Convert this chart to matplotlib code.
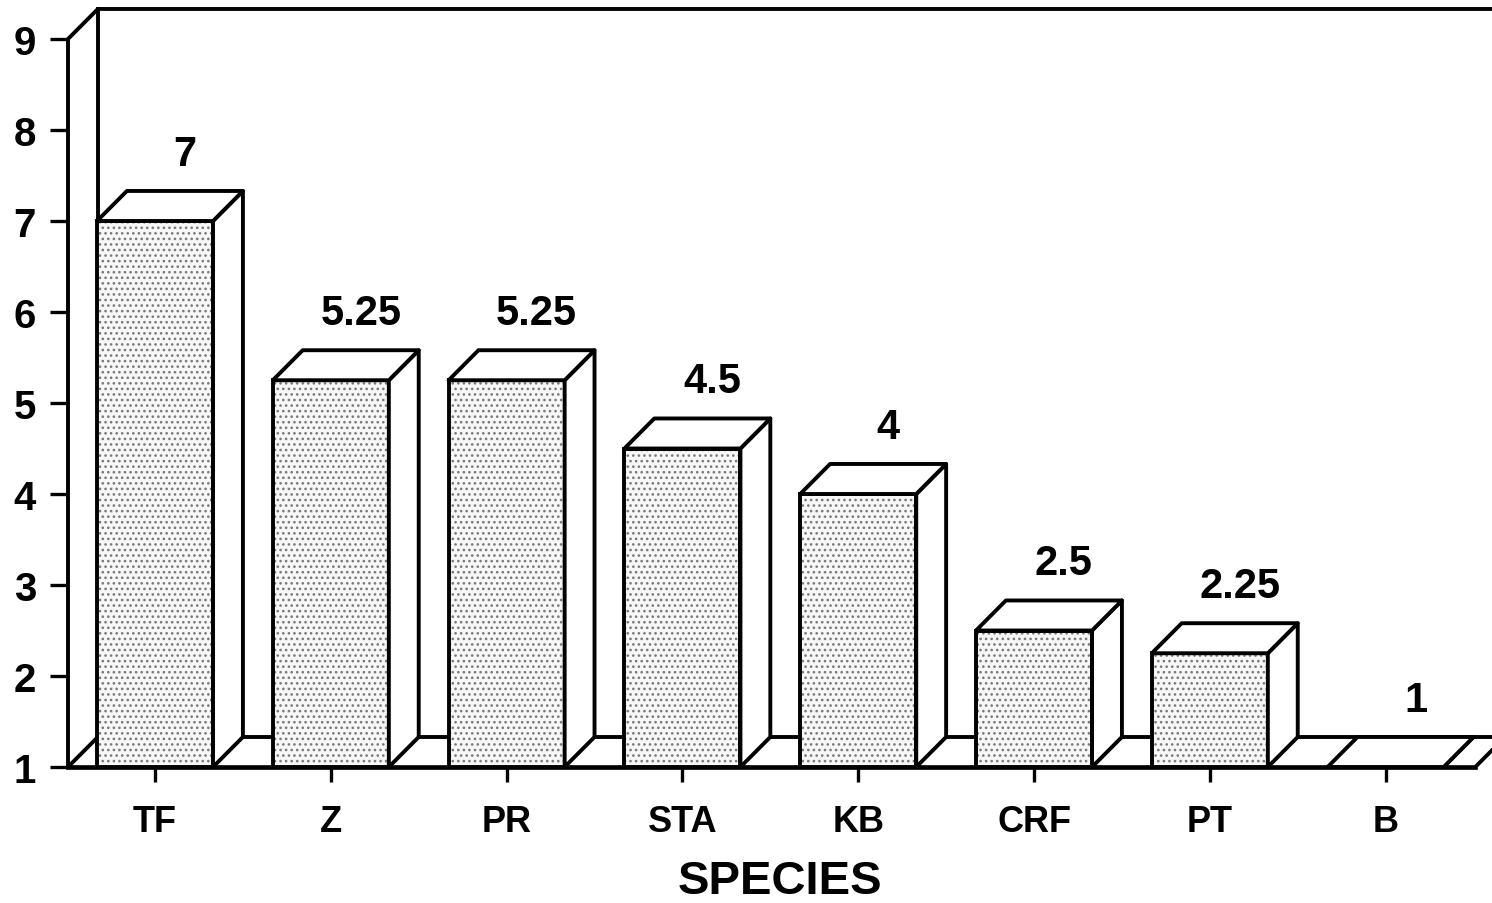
import numpy as np
import matplotlib.pyplot as plt
from matplotlib.patches import Polygon

plt.rcParams['font.family'] = ['Liberation Sans', 'DejaVu Sans']
plt.rcParams['font.weight'] = 'bold'
plt.rcParams['hatch.linewidth'] = 1.1

# -------------------------------
# Data
# -------------------------------
species = ["TF", "Z", "PR", "STA", "KB", "CRF", "PT", "B"]
values = [7, 5.25, 5.25, 4.5, 4, 2.5, 2.25, 1]
value_labels = ["7", "5.25", "5.25", "4.5", "4", "2.5", "2.25", "1"]
y_ticks = [1, 2, 3, 4, 5, 6, 7, 8, 9]

# -------------------------------
# Layout (pseudo 3D)
# -------------------------------
W, H = 1492, 904
y0, y_top = 1, 9
bar_w = 0.66
dx, dy = 0.17, 0.33          # depth offset in data units
x_left, x_right = -0.495, 7.605
floor_end = 7.51
lw = 2.8

fig = plt.figure(figsize=(W / 100, H / 100), dpi=100)
ax = fig.add_axes([68 / W, (H - 768) / H, 1 - 68 / W, 768 / H])
ax.set_xlim(x_left, x_right)
ax.set_ylim(y0, y0 + 768 / 91)
for s in ax.spines.values():
    s.set_visible(False)

# back wall and floor
wall_x = x_left + dx
ax.plot([x_left, x_left, wall_x, x_right + 1], [y0, y_top, y_top + dy, y_top + dy],
        color="k", lw=lw, clip_on=False, solid_joinstyle="round")
ax.plot([wall_x, wall_x], [y0 + dy, y_top + dy], color="k", lw=lw)
ax.plot([x_left, wall_x], [y0, y0 + dy], color="k", lw=lw)
ax.plot([wall_x, x_right + 1], [y0 + dy, y0 + dy], color="k", lw=lw)
ax.plot([x_left, floor_end], [y0, y0], color="k", lw=lw * 1.2, clip_on=False)
ax.plot([floor_end, floor_end + dx], [y0, y0 + dy], color="k", lw=lw)

# bars
x = np.arange(len(species))
heights = np.array(values) - y0
ax.bar(x, heights, bottom=y0, width=bar_w, color="#f7f7f7", edgecolor="#7a7a7a",
       hatch="...", linewidth=0, zorder=3)
ax.bar(x, heights, bottom=y0, width=bar_w, fill=False, edgecolor="k",
       linewidth=lw, zorder=4)

for xi, v, lab in zip(x, values, value_labels):
    l, r = xi - bar_w / 2, xi + bar_w / 2
    top = Polygon([(l, v), (l + dx, v + dy), (r + dx, v + dy), (r, v)],
                  closed=True, facecolor="white", edgecolor="k", lw=lw, zorder=4,
                  joinstyle="round")
    side = Polygon([(r, y0), (r + dx, y0 + dy), (r + dx, v + dy), (r, v)],
                   closed=True, facecolor="white", edgecolor="k", lw=lw, zorder=4,
                   joinstyle="round")
    ax.add_patch(side)
    ax.add_patch(top)
    ax.text(xi + dx, v + dy + 0.19, lab, ha="center", va="bottom",
            fontsize=30, fontweight="bold")

# ticks
ax.set_yticks(y_ticks)
ax.set_yticklabels([str(t) for t in y_ticks])
ax.set_xticks(x)
ax.set_xticklabels(species)
ax.tick_params(axis="y", direction="out", length=13, width=2.4, pad=10, labelsize=29)
ax.tick_params(axis="x", direction="out", length=11, width=2.4, pad=16, labelsize=26)
ax.set_xlabel("SPECIES", fontsize=34, fontweight="bold", labelpad=14)

fig.savefig("out.png", dpi=100)
